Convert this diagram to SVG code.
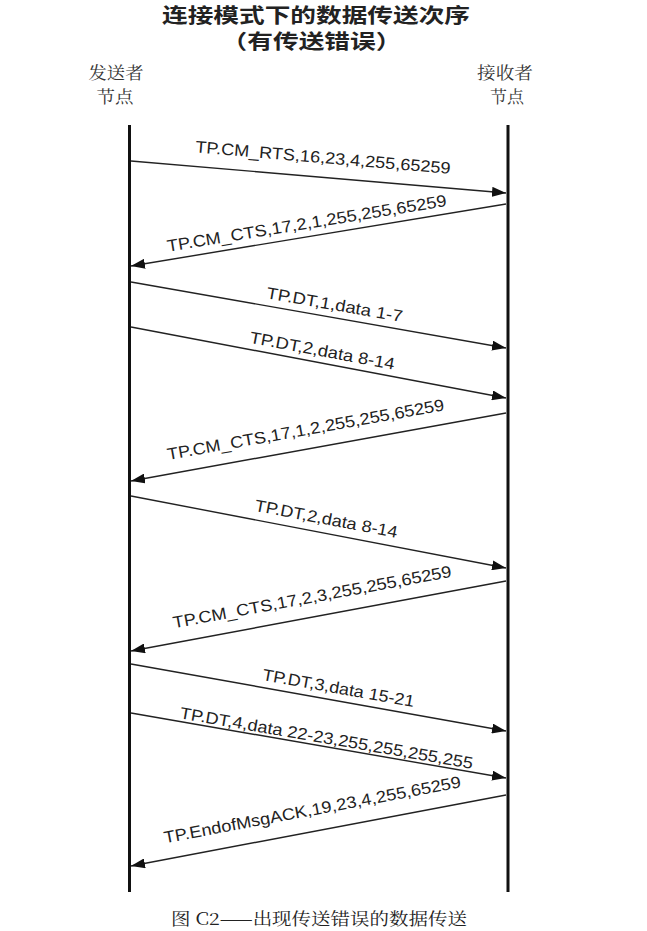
<svg xmlns="http://www.w3.org/2000/svg" width="647" height="931" viewBox="0 0 647 931">
<style>
.bg{fill:#ffffff}
.title{font-family:"Noto Sans CJK SC","Noto Sans CJK TC",sans-serif;font-size:20px;font-weight:bold;fill:#222;text-anchor:middle}
.node{font-family:"Noto Serif CJK SC","Noto Sans CJK SC",serif;font-size:17px;fill:#333;text-anchor:middle}
.cap{font-family:"Noto Serif CJK SC","Liberation Serif","Noto Sans CJK SC",serif;font-size:17px;fill:#222}
.life{stroke:#111;stroke-width:3;fill:none}
.msg{stroke:#222;stroke-width:1.4;fill:none;marker-end:url(#ah)}
.lbl{font-family:"Liberation Sans",Arial,sans-serif;font-size:16.5px;fill:#222}
</style>
<defs>
<marker id="ah" markerUnits="userSpaceOnUse" markerWidth="14" markerHeight="10" refX="14" refY="5" orient="auto">
<path d="M0,0 L14,5 L0,10 z" fill="#111"/>
</marker>
</defs>
<rect class="bg" x="0" y="0" width="647" height="931"/>
<g id="title">
<text class="title" x="316" y="22.5" textLength="308" lengthAdjust="spacingAndGlyphs">连接模式下的数据传送次序</text>
<text class="title" x="311.5" y="49" textLength="180" lengthAdjust="spacingAndGlyphs">（有传送错误）</text>
</g>
<g id="sender">
<text class="node" x="116" y="79" textLength="55" lengthAdjust="spacingAndGlyphs">发送者</text>
<text class="node" x="115" y="103" textLength="37" lengthAdjust="spacingAndGlyphs">节点</text>
<line class="life" x1="129.5" y1="125" x2="129.5" y2="892"/>
</g>
<g id="receiver">
<text class="node" x="505" y="79" textLength="56" lengthAdjust="spacingAndGlyphs">接收者</text>
<text class="node" x="507" y="103" textLength="34" lengthAdjust="spacingAndGlyphs">节点</text>
<line class="life" x1="508" y1="125" x2="508" y2="892"/>
</g>
<g id="connectors">
<line class="msg" x1="131" y1="161" x2="506" y2="193"/>
<line class="msg" x1="506" y1="204" x2="131" y2="266"/>
<line class="msg" x1="131" y1="282" x2="506" y2="348"/>
<line class="msg" x1="131" y1="327" x2="506" y2="398"/>
<line class="msg" x1="506" y1="413" x2="131" y2="481"/>
<line class="msg" x1="131" y1="496" x2="506" y2="568"/>
<line class="msg" x1="506" y1="581" x2="131" y2="651"/>
<line class="msg" x1="131" y1="664" x2="506" y2="731"/>
<line class="msg" x1="131" y1="713" x2="506" y2="778"/>
<line class="msg" x1="506" y1="795" x2="131" y2="866"/>
</g>
<g id="labels">
<text class="lbl" transform="translate(195,152.3) rotate(4.84)" textLength="256" lengthAdjust="spacingAndGlyphs">TP.CM_RTS,16,23,4,255,65259</text>
<text class="lbl" transform="translate(168,251.7) rotate(-9.3)" textLength="283" lengthAdjust="spacingAndGlyphs">TP.CM_CTS,17,2,1,255,255,65259</text>
<text class="lbl" transform="translate(265.7,298.3) rotate(9.9)" textLength="138" lengthAdjust="spacingAndGlyphs">TP.DT,1,data 1-7</text>
<text class="lbl" transform="translate(249,342.7) rotate(10.6)" textLength="147" lengthAdjust="spacingAndGlyphs">TP.DT,2,data 8-14</text>
<text class="lbl" transform="translate(168.3,460) rotate(-10.2)" textLength="281" lengthAdjust="spacingAndGlyphs">TP.CM_CTS,17,1,2,255,255,65259</text>
<text class="lbl" transform="translate(254,510.7) rotate(10.8)" textLength="145" lengthAdjust="spacingAndGlyphs">TP.DT,2,data 8-14</text>
<text class="lbl" transform="translate(174,628.3) rotate(-10.5)" textLength="283" lengthAdjust="spacingAndGlyphs">TP.CM_CTS,17,2,3,255,255,65259</text>
<text class="lbl" transform="translate(261.7,680) rotate(10.1)" textLength="154" lengthAdjust="spacingAndGlyphs">TP.DT,3,data 15-21</text>
<text class="lbl" transform="translate(179.3,718.3) rotate(9.8)" textLength="297" lengthAdjust="spacingAndGlyphs">TP.DT,4,data 22-23,255,255,255,255</text>
<text class="lbl" transform="translate(165,843.3) rotate(-10.7)" textLength="302" lengthAdjust="spacingAndGlyphs">TP.EndofMsgACK,19,23,4,255,65259</text>
</g>
<g id="caption">
<text class="cap" x="171" y="925" textLength="296" lengthAdjust="spacingAndGlyphs">图 C2——出现传送错误的数据传送</text>
</g>
</svg>
